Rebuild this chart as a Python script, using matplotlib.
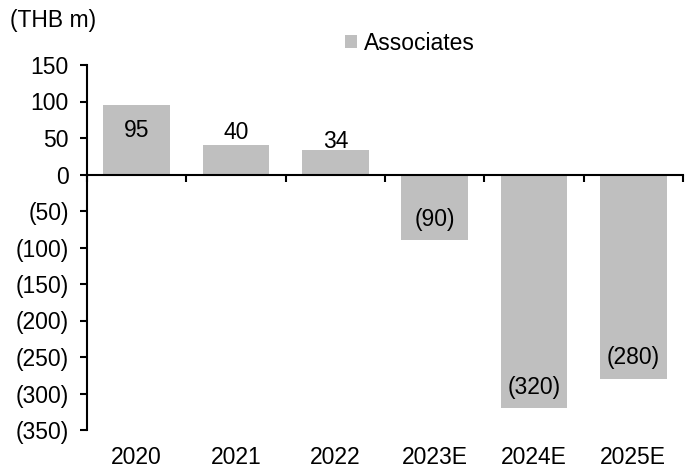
import numpy as np
import matplotlib.pyplot as plt

plt.rcParams['font.family'] = ['Liberation Sans', 'DejaVu Sans']

# === dane ===
years = ['2020', '2021', '2022', '2023E', '2024E', '2025E']
associates = [95, 40, 34, -90, -320, -280]
label_off = [-25, 13, 8, 21, 21, 21]  # przesunięcie etykiety (px)

FS = 16.5

def fmt(v):
    return f'({abs(v)})' if v < 0 else f'{v}'

fig = plt.figure(figsize=(6.93, 4.70), dpi=100)
ax = fig.add_axes([87/693, 40/470, 596/693, 365/470])

x = np.arange(len(years))
ax.bar(x, associates, width=0.67, color='#bfbfbf', label='Associates', zorder=2)

for xi, v, off in zip(x, associates, label_off):
    ax.annotate(fmt(v), (xi, v), xytext=(0, off * 0.72), textcoords='offset points',
                ha='center', va='center', fontsize=FS, zorder=3)

ax.set_ylim(-350, 150)
ax.set_xlim(-0.5, len(years) - 0.5)
yt = np.arange(-350, 151, 50)
ax.set_yticks(yt)
ax.set_yticklabels([fmt(v) for v in yt], fontsize=FS)

# oś x na zero
ax.spines['bottom'].set_position(('data', 0))
ax.spines['top'].set_visible(False)
ax.spines['right'].set_visible(False)
ax.spines['left'].set_linewidth(1.5)
ax.spines['bottom'].set_linewidth(1.5)
ax.set_xticks(np.arange(len(years) + 1) - 0.5)
ax.set_xticklabels([])
ax.tick_params(axis='x', direction='out', length=5, width=1.5)
ax.tick_params(axis='y', direction='out', length=5, width=1.5, pad=8)
for xi, yr in zip(x, years):
    ax.text(xi, -0.075, yr, transform=ax.get_xaxis_transform(), ha='center', va='center',
            fontsize=FS)

fig.text(10/693, 1 - 20/470, '(THB m)', ha='left', va='center', fontsize=FS)
ax.legend(loc='center', bbox_to_anchor=(0.542, 1.06), frameon=False, fontsize=FS,
          handlelength=0.5, handleheight=0.5, handletextpad=0.3)

plt.savefig('out.png', dpi=100)
